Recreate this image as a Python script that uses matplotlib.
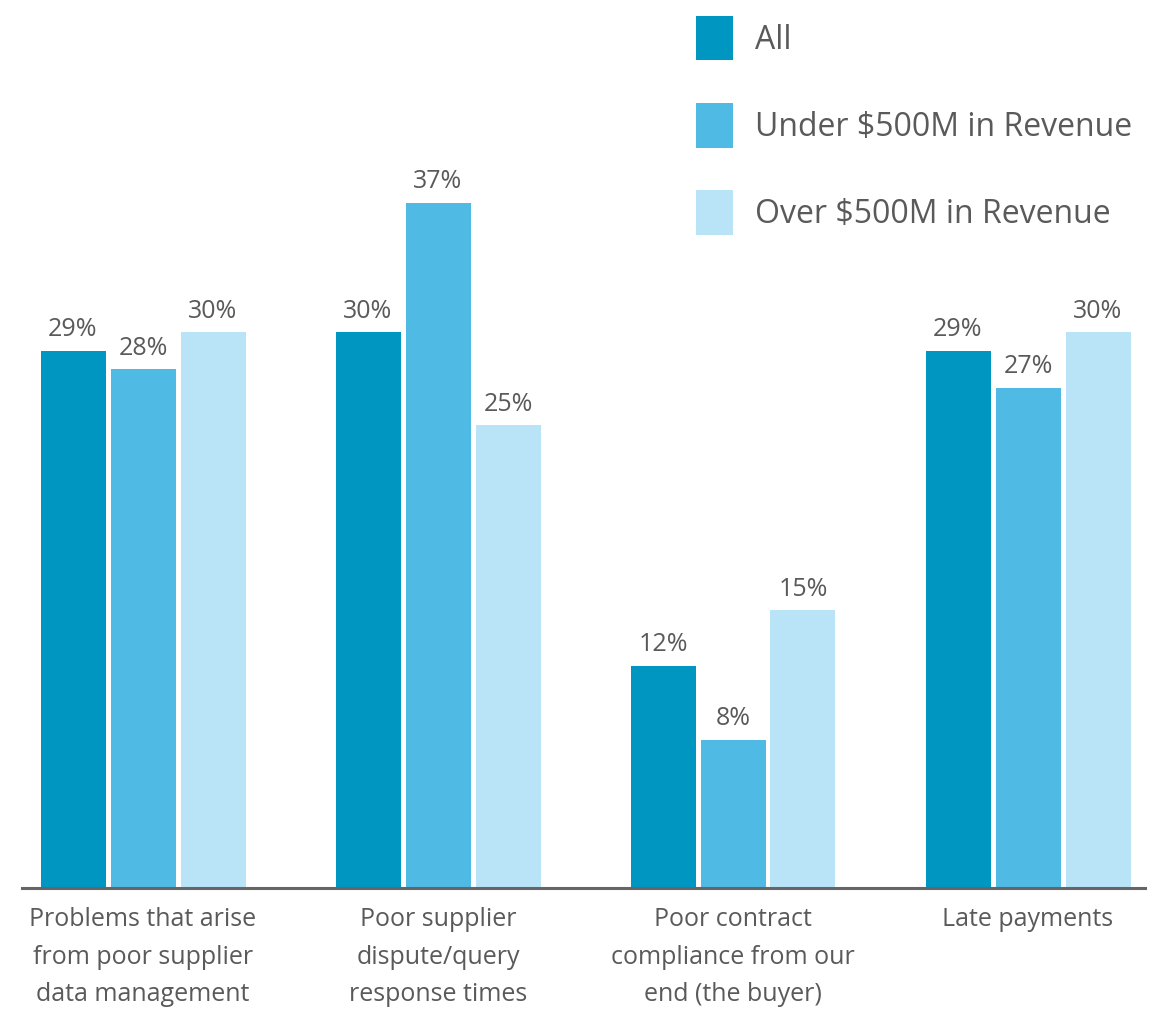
import numpy as np
from matplotlib import pyplot as plt

categories = ['Problems that arise\nfrom poor supplier\ndata management',
              'Poor supplier\ndispute/query\nresponse times',
              'Poor contract\ncompliance from our\nend (the buyer)',
              'Late payments']
series_names = ['All', 'Under $500M in Revenue', 'Over $500M in Revenue']
all_vals = [29, 30, 12, 29]
under_vals = [28, 37, 8, 27]
over_vals = [30, 25, 15, 30]

colors = ['#0096c2', '#4fbae3', '#b9e4f7']
text_color = '#5a5a5a'
plt.rcParams['font.family'] = ['Open Sans', 'DejaVu Sans']

fig = plt.figure(figsize=(11.62, 10.23), dpi=100)
# axes placed in pixel terms: baseline at y=888, spans x 22..1145
ax = fig.add_axes([22 / 1162, (1023 - 888) / 1023, (1145 - 22) / 1162, 741 / 1023])

x = np.arange(len(categories))
width = 65 / 295
step = 70 / 295

bars = []
for i, (vals, name) in enumerate(zip([all_vals, under_vals, over_vals], series_names)):
    b = ax.bar(x + (i - 1) * step, vals, width, color=colors[i], label=name)
    bars.append(b)
    for rect, v in zip(b, vals):
        ax.annotate(f'{v}%', (rect.get_x() + rect.get_width() / 2, v),
                    xytext=(0, 6), textcoords='offset points',
                    ha='center', va='bottom', fontsize=18, color=text_color)

ax.set_xlim(-121 / 295, 1002 / 295)
ax.set_ylim(0, 40)
for s in ['top', 'right', 'left']:
    ax.spines[s].set_visible(False)
ax.spines['bottom'].set_color('#666666')
ax.spines['bottom'].set_linewidth(2.2)
ax.set_yticks([])
ax.set_xticks(x)
ax.set_xticklabels(categories, fontsize=18, color=text_color, linespacing=1.64)
ax.tick_params(axis='x', length=0, pad=14)

fig.legend(handles=bars, labels=series_names, loc='upper left',
           bbox_to_anchor=(696 / 1162, 1 - 16 / 1023), frameon=False,
           fontsize=23, labelcolor=text_color, borderpad=0, borderaxespad=0,
           handlelength=1.16, handleheight=1.76, handletextpad=0.68,
           labelspacing=1.34)

fig.savefig('out.png', dpi=100)
